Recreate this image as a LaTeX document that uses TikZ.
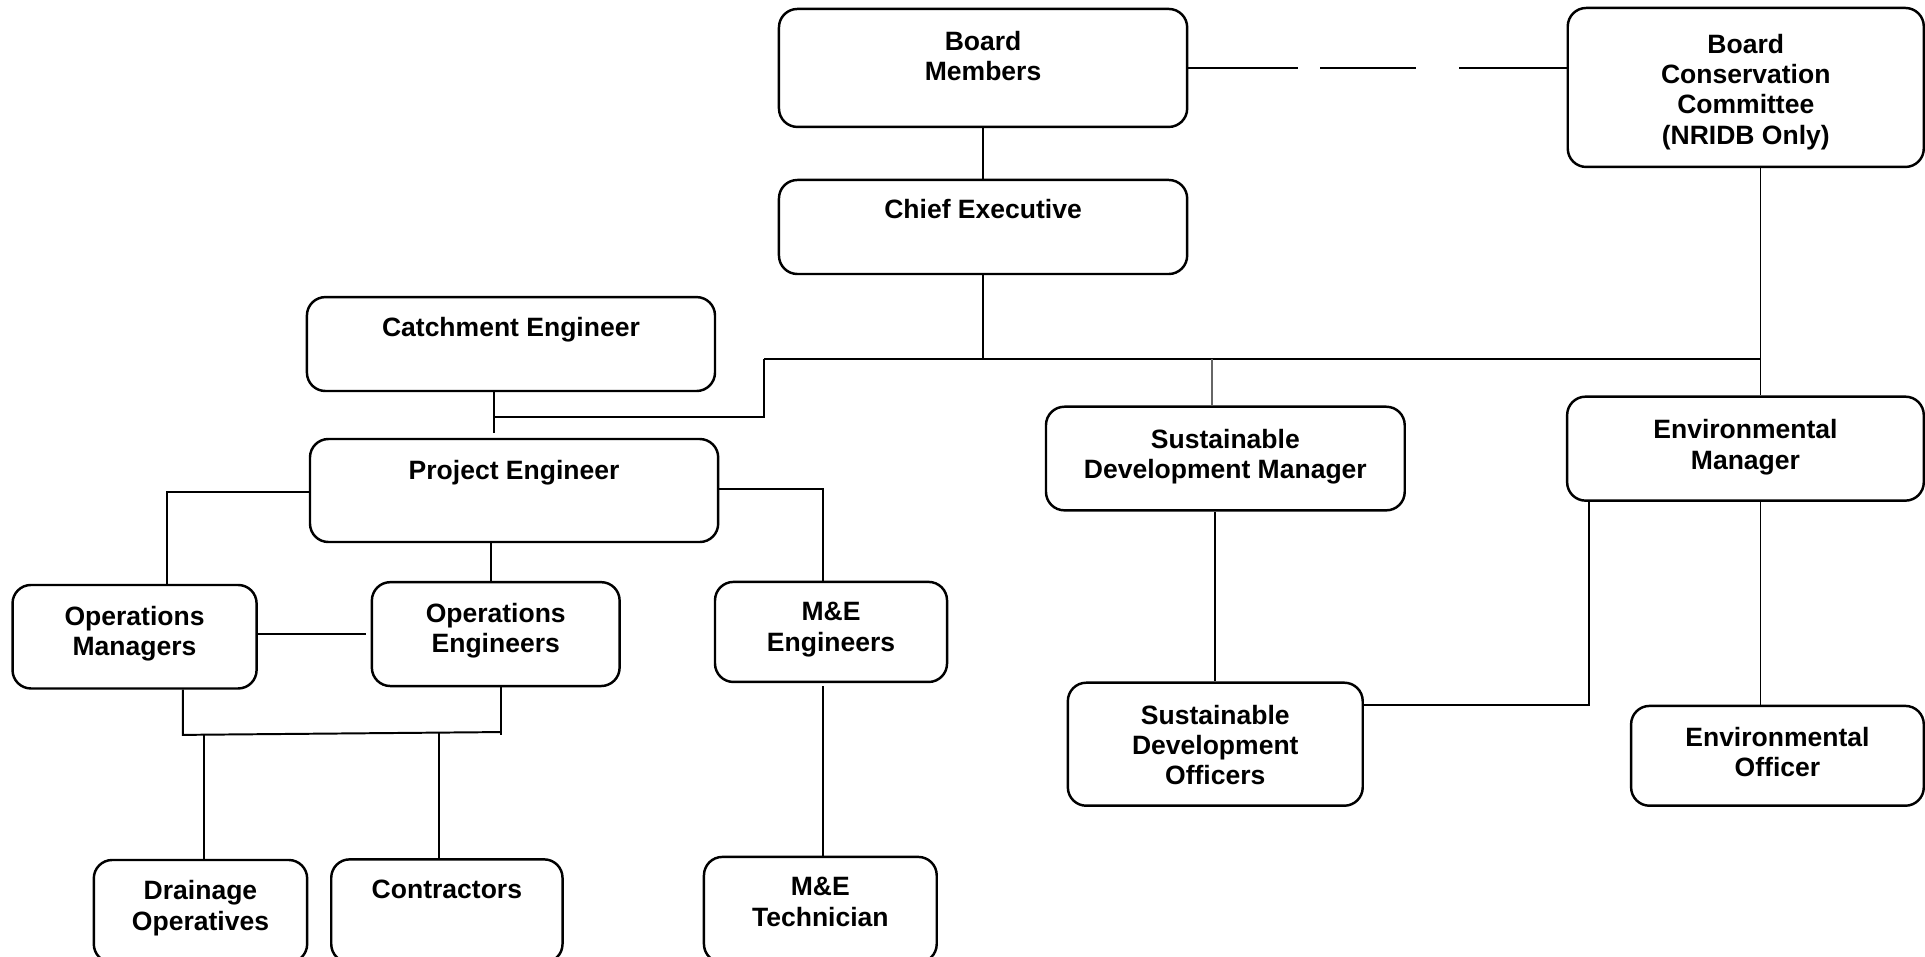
\documentclass[tikz,border=0pt]{standalone}
\usepackage{fontspec}
\setmainfont{Liberation Sans}
\usetikzlibrary{fit}
\begin{document}
\begin{tikzpicture}[x=0.5pt,y=-0.5pt,
  obox/.style={draw, line width=1pt, rounded corners=7.5pt, inner sep=0pt, fit={#1}},
  lbl/.style={anchor=north, align=center, inner sep=0pt, yshift=-#1,
    font=\bfseries\fontsize{10.8}{12.3}\selectfont},
  lbl/.default=8.75pt,
  conn/.style={line width=0.8pt}]
\useasboundingbox (0,0) rectangle (1568,779.5);

% boxes
\node[obox={(634.5,7.3)(967,103.4)}, label={[lbl=9.25pt]north:{Board\\Members}}] (bm) {};
\node[obox={(1277,6.5)(1567,136)}, label={[lbl=11pt]north:{Board\\Conservation\\Committee\\(NRIDB Only)}}] (bcc) {};
\node[obox={(634.5,146.6)(967,223.2)}, label={[lbl=8.2pt]north:{Chief Executive}}] (ce) {};
\node[obox={(250,242)(582.4,318.5)}, label={[lbl=8.7pt]north:{Catchment Engineer}}] (cae) {};
\node[obox={(252.5,357.6)(585,441.5)}, label={[lbl=9pt]north:{Project Engineer}}] (pe) {};
\node[obox={(852,331.3)(1144.2,415.7)}, label={[lbl=9.4pt]north:{Sustainable\\Development Manager}}] (sdm) {};
\node[obox={(1276.5,323.1)(1567,407.8)}, label={[lbl=9.7pt]north:{Environmental\\Manager}}] (em) {};
\node[obox={(10.2,476.5)(209,560.8)}, label={[lbl=8.8pt]north:{Operations\\Managers}}] (om) {};
\node[obox={(302.9,474.2)(504.7,558.8)}, label={[lbl=8.8pt]north:{Operations\\Engineers}}] (oe) {};
\node[obox={(582.4,474)(771.4,555.5)}, label={[lbl=8.7pt]north:{M\&E\\Engineers}}] (mee) {};
\node[obox={(869.8,556.1)(1110,656.3)}, label={[lbl=9.3pt]north:{Sustainable\\Development\\Officers}}] (sdo) {};
\node[obox={(1328.6,575)(1567,656.3)}, label={[lbl=9.1pt]north:{Environmental\\Officer}}] (eo) {};
\node[obox={(76.4,700.5)(250.2,784)}, label={[lbl=8.7pt]north:{Drainage\\Operatives}}] (do) {};
\node[obox={(269.8,700)(458.2,784)}, label={[lbl=8.7pt]north:{Contractors}}] (co) {};
\node[obox={(573.4,698)(763,784)}, label={[lbl=8.7pt]north:{M\&E\\Technician}}] (met) {};

% top connectors
\draw[conn] (bm.south) -- (ce.north);
\coordinate (dsh) at (0,55.1);
\draw[conn, dash pattern=on 44.75pt off 8.95pt on 39.1pt off 17.5pt on 50pt]
  (bm.east |- dsh) -- (bcc.west |- dsh);

\coordinate (busL) at (622.3,292.7);
\coordinate (busR) at (1434,292.7);
\draw[conn] (ce.south) -- (ce.south |- busL);
\draw[conn] (busL) -- (busR);
\coordinate (elb) at (622.3,339.7);
\coordinate (caex) at (402.4,352.4);
\draw[conn] (busL) -- (elb) -- (elb -| caex);
\draw[conn] (cae.south -| caex) -- (caex);

\coordinate (sdmx) at (987,0);
\draw[conn, black!60] (sdmx |- busL) -- (sdmx |- sdm.north);
\draw[conn] (bcc.south -| busR) -- (em.north -| busR);
\draw[conn] (em.south -| busR) -- (eo.north -| busR);
\coordinate (emL) at (1294,574.5);
\draw[conn] (em.south -| emL) -- (emL) -- (emL -| sdo.east);
\draw[conn] (sdm.south -| sdo.north) -- (sdo.north);

% project engineer connectors
\coordinate (pel) at (136.4,401);
\draw[conn] (pe.west |- pel) -- (pel) -- (pel |- om.north);
\coordinate (pebx) at (400,0);
\draw[conn] (pebx |- pe.south) -- (pebx |- oe.north);
\coordinate (per) at (670.4,398.3);
\draw[conn] (pe.east |- per) -- (per) -- (per |- mee.north);
\coordinate (metx) at (670.4,559);
\draw[conn] (metx) -- (metx |- met.north);

\coordinate (omoe) at (0,516.4);
\draw[conn] (om.east |- omoe) -- ([xshift=-2pt]oe.west |- omoe);
\coordinate (hl) at (149,598.6);
\coordinate (hr) at (408,596.3);
\draw[conn] (om.south -| hl) -- (hl) -- (hr);
\draw[conn] (oe.south -| hr) -- ([yshift=-1pt]hr);
\coordinate (dox) at (166.2,598.4);
\draw[conn] (dox) -- (dox |- do.north);
\coordinate (cox) at (357.5,596.8);
\draw[conn] (cox) -- (cox |- co.north);
\end{tikzpicture}
\end{document}
